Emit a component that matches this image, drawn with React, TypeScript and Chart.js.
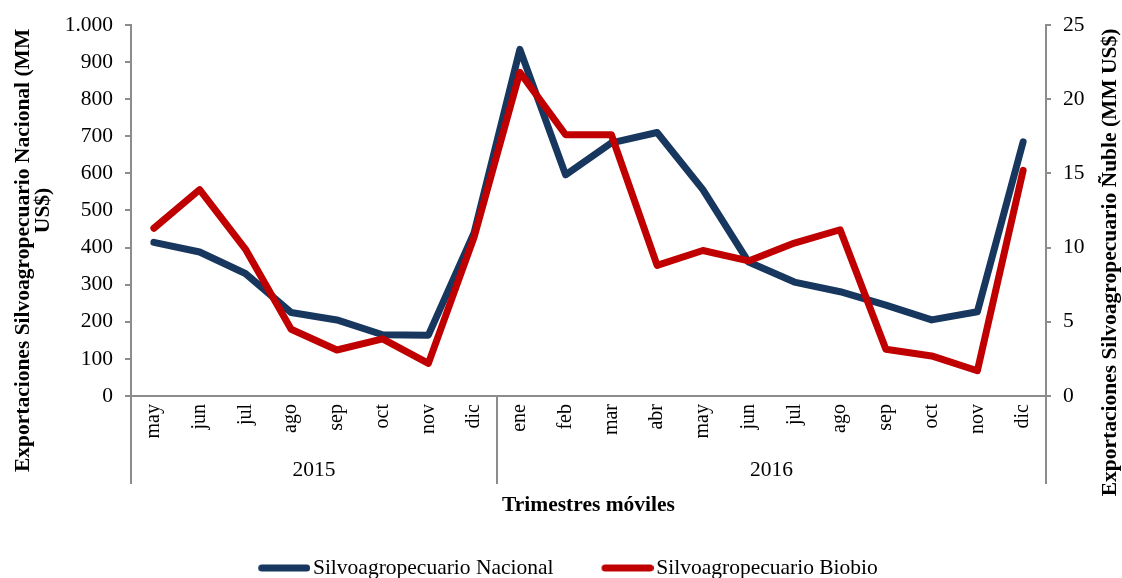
import React, { useEffect, useRef } from 'react';
import { Chart, registerables } from 'chart.js';

Chart.register(...registerables);

// ---- data ----
const months = ['may', 'jun', 'jul', 'ago', 'sep', 'oct', 'nov', 'dic', 'ene', 'feb', 'mar', 'abr', 'may', 'jun', 'jul', 'ago', 'sep', 'oct', 'nov', 'dic'];
const years = ['2015', '2016'];
const yearMonthCounts = [8, 12];
const seriesNames = ['Silvoagropecuario Nacional', 'Silvoagropecuario Biobio'];
const nacional = [414, 388, 330, 225, 205, 165, 164, 440, 934, 596, 682, 710, 556, 361, 307, 281, 245, 205, 227, 685];
const biobio = [11.3, 13.9, 9.9, 4.5, 3.1, 3.85, 2.2, 10.7, 21.8, 17.6, 17.6, 8.8, 9.8, 9.1, 10.3, 11.2, 3.15, 2.7, 1.7, 15.2];
const leftAxisTitle = ['Exportaciones Silvoagropecuario Nacional (MM', 'US$)'];
const rightAxisTitle = 'Exportaciones Silvoagropecuario Ñuble (MM US$)';
const xAxisTitle = 'Trimestres móviles';

// ---- derived ----
const yearStarts: number[] = [];
const yearCenters: number[] = [];
{
  let acc = 0;
  yearMonthCounts.forEach((c) => {
    yearStarts.push(acc);
    yearCenters.push(acc + (c - 1) / 2);
    acc += c;
  });
}

const FONT = "'Times New Roman', 'Liberation Serif', serif";
const AXIS_GRAY = '#8c8c8c';
const BLUE = '#17375E';
const RED = '#C00000';
const SHIFT = 7; // moves the legend box right without moving the plot

Chart.defaults.font.family = FONT;
Chart.defaults.color = '#000';

function formatThousands(v: number): string {
  return String(v).replace(/\B(?=(\d{3})+(?!\d))/g, '.');
}

// legend swatch: a thick rounded line, slightly wider than the legend box
function legendLine(color: string): HTMLCanvasElement {
  const c = document.createElement('canvas');
  c.width = 60;
  c.height = 8;
  const g = c.getContext('2d') as CanvasRenderingContext2D;
  g.strokeStyle = color;
  g.lineWidth = 7;
  g.lineCap = 'round';
  g.beginPath();
  g.moveTo(11.5, 4);
  g.lineTo(56.5, 4);
  g.stroke();
  return c;
}

const sideTitles = {
  id: 'sideTitles',
  afterDraw(chart: any) {
    const { ctx, chartArea } = chart;
    ctx.save();
    ctx.fillStyle = '#000';
    ctx.font = `bold 21.5px ${FONT}`;
    ctx.textAlign = 'center';
    ctx.textBaseline = 'middle';
    const draw = (text: string, x: number, y: number) => {
      ctx.save();
      ctx.translate(x, y);
      ctx.rotate(-Math.PI / 2);
      ctx.fillText(text, 0, 0);
      ctx.restore();
    };
    const mid = (chartArea.top + chartArea.bottom) / 2;
    draw(leftAxisTitle[0], chartArea.left - 108, mid + 40);
    draw(leftAxisTitle[1], chartArea.left - 88, mid);
    draw(rightAxisTitle, chartArea.right + 64, mid + 52);
    ctx.restore();
  },
};

export default function App() {
  const ref = useRef<HTMLCanvasElement>(null);
  useEffect(() => {
    const monthFont = { size: 20, family: FONT };
    const font = { size: 21.5, family: FONT };
    const chart = new Chart(ref.current as HTMLCanvasElement, {
      type: 'line',
      data: {
        labels: months,
        datasets: [
          {
            label: seriesNames[0],
            data: nacional,
            xAxisID: 'x',
            yAxisID: 'y',
            borderColor: BLUE,
            backgroundColor: BLUE,
            borderWidth: 7,
            pointRadius: 0,
            pointStyle: legendLine(BLUE),
            borderCapStyle: 'round',
            borderJoinStyle: 'round',
            tension: 0,
            order: 1,
          },
          {
            label: seriesNames[1],
            data: biobio,
            xAxisID: 'x',
            yAxisID: 'y1',
            borderColor: RED,
            backgroundColor: RED,
            borderWidth: 7,
            pointRadius: 0,
            pointStyle: legendLine(RED),
            borderCapStyle: 'round',
            borderJoinStyle: 'round',
            tension: 0,
            order: 0,
          },
        ],
      },
      options: {
        animation: false,
        responsive: true,
        maintainAspectRatio: false,
        layout: { padding: { top: 20, left: SHIFT, right: -SHIFT, bottom: -10.75 } },
        plugins: {
          tooltip: { enabled: false },
          legend: {
            position: 'bottom',
            labels: {
              usePointStyle: true,
              pointStyleWidth: 44,
              padding: 48,
              font,
              color: '#000',
              sort: (a: any, b: any) => a.datasetIndex - b.datasetIndex,
            },
          },
        },
        scales: {
          x: {
            type: 'category',
            position: 'bottom',
            offset: true,
            weight: 0,
            grid: {
              display: true,
              drawOnChartArea: false,
              drawTicks: true,
              tickLength: 88,
              offset: true,
              lineWidth: 2,
              color: (c: any) =>
                c.type !== 'tick' || yearStarts.includes(c.index) ? AXIS_GRAY : 'rgba(0,0,0,0)',
            },
            border: { display: true, color: AXIS_GRAY, width: 2 },
            ticks: {
              autoSkip: false,
              minRotation: 90,
              maxRotation: 90,
              padding: -80,
              color: '#000',
              font: monthFont,
            },
            afterFit: (s: any) => {
              s.height = 58;
            },
          },
          x2: {
            type: 'linear',
            position: 'bottom',
            min: -0.5,
            max: months.length - 0.5,
            weight: 1,
            grid: { display: false },
            border: { display: false },
            afterBuildTicks: (s: any) => {
              s.ticks = yearCenters.map((v) => ({ value: v }));
            },
            ticks: {
              autoSkip: false,
              maxRotation: 0,
              padding: -5,
              color: '#000',
              font,
              callback: (_v: any, i: number) => years[i],
            },
            title: {
              display: true,
              text: xAxisTitle,
              color: '#000',
              font: { size: 21.5, family: FONT, weight: 'bold' },
              padding: { top: 0, bottom: -9.6 },
            },
            afterFit: (s: any) => {
              s.height = 55.25;
            },
          },
          y: {
            type: 'linear',
            position: 'left',
            min: 0,
            max: 1000,
            ticks: {
              stepSize: 100,
              padding: 12,
              color: '#000',
              font,
              callback: (v: any) => formatThousands(Number(v)),
            },
            grid: {
              display: true,
              drawOnChartArea: false,
              drawTicks: true,
              tickLength: 6,
              color: AXIS_GRAY,
              lineWidth: 2,
            },
            border: { display: true, color: AXIS_GRAY, width: 2 },
            afterFit: (s: any) => {
              s.width = 131 - SHIFT;
            },
          },
          y1: {
            type: 'linear',
            position: 'right',
            min: 0,
            max: 25,
            ticks: { stepSize: 5, padding: 12, color: '#000', font },
            grid: {
              display: true,
              drawOnChartArea: false,
              drawTicks: true,
              tickLength: 5,
              color: AXIS_GRAY,
              lineWidth: 2,
            },
            border: { display: true, color: AXIS_GRAY, width: 2 },
            afterFit: (s: any) => {
              s.width = 76 + SHIFT;
            },
          },
        },
      },
      plugins: [sideTitles],
    } as any);
    return () => chart.destroy();
  }, []);
  return (
    <div style={{ position: 'fixed', left: 0, top: 0, width: 1122, height: 578, background: '#fff' }}>
      <canvas ref={ref} />
    </div>
  );
}
